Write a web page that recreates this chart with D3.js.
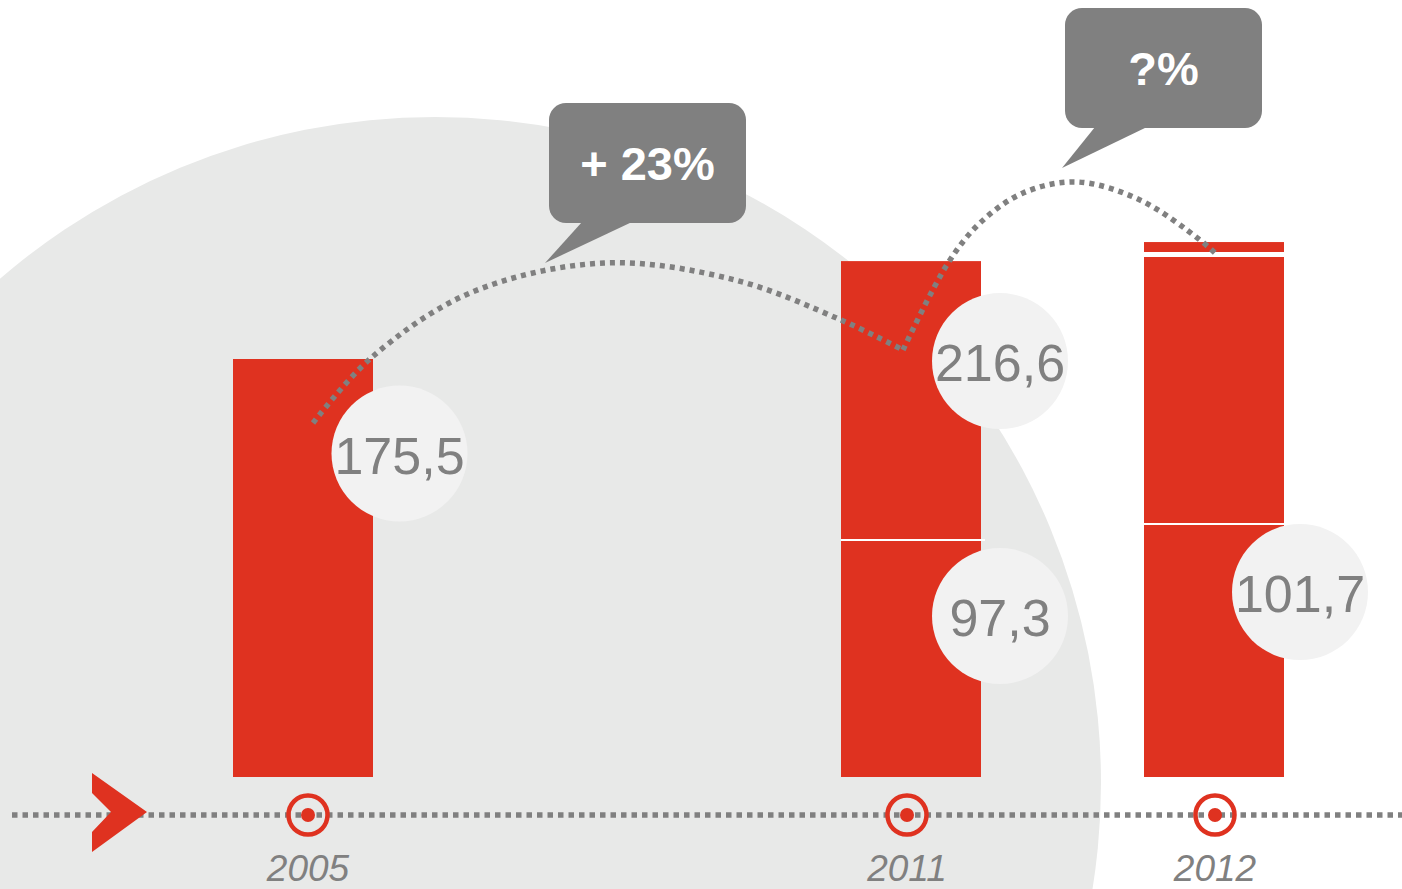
<!DOCTYPE html>
<html>
<head>
<meta charset="utf-8">
<script src="https://cdn.jsdelivr.net/npm/d3@7"></script>
<style>
  body { margin: 0; background: #fff; }
  svg { display: block; font-family: "Liberation Sans", Arial, sans-serif; }
</style>
</head>
<body>
<div id="chart"></div>
<script>
// Data
const years = ["2005", "2011", "2012"];
const baseSeg = [175.5, 99.5, 106.2];   // lower block of each bar
const midSeg = [0, 117.1, 113.2];       // upper block
const topSeg = [0, 0, 5.2];             // small forecast cap (2012)
const totalLabels = ["175,5", "216,6", null];
const lowerLabels = [null, "97,3", "101,7"];
const growthLabels = ["+ 23%", "?%"];

// Set dimensions
const width = 1402,
    height = 889;

const red = "#df3220",
    grey = "#808080";

const svg = d3.select("#chart")
  .append("svg")
  .attr("width", width)
  .attr("height", height);

// Scales
const x = d3.scaleOrdinal()
  .domain(years)
  .range([303, 911, 1214]);
const barW = 140;

const y = d3.scaleLinear()
  .domain([0, 175.5])
  .range([777, 359]);

const axisY = 815;

// Big grey disc behind everything
svg.append("circle")
  .attr("cx", 435)
  .attr("cy", 783)
  .attr("r", 666)
  .attr("fill", "#e8e9e8");

// Time axis (dotted)
svg.append("line")
  .attr("x1", 12)
  .attr("x2", width)
  .attr("y1", axisY)
  .attr("y2", axisY)
  .attr("stroke", grey)
  .attr("stroke-width", 5.5)
  .attr("stroke-dasharray", "5.5,5");

// Red chevron at the start of the axis
svg.append("path")
  .attr("d", "M92,773 L147,812 L92,852 L92,832 L111,812 L92,793 Z")
  .attr("fill", red);

// Bars
const rows = years.map((yr, i) => ({
  year: yr,
  base: baseSeg[i],
  mid: midSeg[i],
  top: topSeg[i]
}));

const bars = svg.selectAll(".bar")
  .data(rows)
  .enter()
  .append("g")
  .attr("class", "bar");

bars.append("rect")
  .attr("x", d => x(d.year) - barW / 2)
  .attr("y", d => y(d.base + d.mid + d.top))
  .attr("width", barW)
  .attr("height", d => y(0) - y(d.base + d.mid + d.top))
  .attr("fill", red);

// white separators between blocks
bars.filter(d => d.mid > 0)
  .append("line")
  .attr("x1", d => x(d.year) - barW / 2)
  .attr("x2", d => x(d.year) + barW / 2 + (d.top > 0 ? 0 : 4))
  .attr("y1", d => y(d.base))
  .attr("y2", d => y(d.base))
  .attr("stroke", "#fff")
  .attr("stroke-width", 2);

bars.filter(d => d.top > 0)
  .append("line")
  .attr("x1", d => x(d.year) - barW / 2)
  .attr("x2", d => x(d.year) + barW / 2)
  .attr("y1", d => y(d.base + d.mid))
  .attr("y2", d => y(d.base + d.mid))
  .attr("stroke", "#fff")
  .attr("stroke-width", 5);

// Year markers on the axis
const markShift = [5, -4, 1];
const marks = svg.selectAll(".mark")
  .data(years)
  .enter()
  .append("g")
  .attr("class", "mark")
  .attr("transform", (d, i) => `translate(${x(d) + markShift[i]},${axisY})`);

marks.append("circle")
  .attr("r", 19.5)
  .attr("fill", "none")
  .attr("stroke", red)
  .attr("stroke-width", 4.5);

marks.append("circle")
  .attr("r", 7)
  .attr("fill", red);

marks.append("text")
  .attr("y", 66)
  .attr("text-anchor", "middle")
  .attr("fill", grey)
  .style("font-size", "37px")
  .style("font-style", "italic")
  .text(d => d);

// Value bubbles
function bubble(cx, cy, label) {
  const g = svg.append("g").attr("transform", `translate(${cx},${cy})`);
  g.append("circle")
    .attr("r", 68)
    .attr("fill", "#f2f2f2");
  g.append("text")
    .attr("y", 20)
    .attr("text-anchor", "middle")
    .attr("fill", grey)
    .style("font-size", "52px")
    .text(label);
}

// bubble offsets from bar's right edge / block top
const totalOff = [[26.5, 94.5], [19, 100], [0, 0]];
const lowerOff = [[0, 0], [19, 76], [16, 68]];

rows.forEach((d, i) => {
  const right = x(d.year) + barW / 2;
  if (totalLabels[i]) {
    bubble(right + totalOff[i][0], y(d.base + d.mid + d.top) + totalOff[i][1], totalLabels[i]);
  }
  if (lowerLabels[i]) {
    bubble(right + lowerOff[i][0], y(d.base) + lowerOff[i][1], lowerLabels[i]);
  }
});

// Dotted growth arcs
const arc = d3.line().curve(d3.curveCatmullRom.alpha(0.5));

const arcs = [
  [[313, 423], [371, 358], [470, 293], [604, 263], [735, 280], [841, 320], [903, 350]],
  [[903, 350], [948, 263], [980, 223], [1023, 193], [1077, 182], [1140, 200], [1200, 240], [1217, 255]]
];

svg.selectAll(".arc")
  .data(arcs)
  .enter()
  .append("path")
  .attr("class", "arc")
  .attr("d", arc)
  .attr("fill", "none")
  .attr("stroke", grey)
  .attr("stroke-width", 5.5)
  .attr("stroke-dasharray", "5,5");

// Callouts
const callouts = [
  {box: [549, 103, 197, 120], tail: [[582, 222], [632, 222], [545, 263]], text: growthLabels[0]},
  {box: [1065, 8, 197, 120], tail: [[1095, 127], [1147, 127], [1062, 168]], text: growthLabels[1]}
];

callouts.forEach(c => {
  const [bx, by, bw, bh] = c.box;
  svg.append("rect")
    .attr("x", bx)
    .attr("y", by)
    .attr("width", bw)
    .attr("height", bh)
    .attr("rx", 17)
    .attr("fill", grey);
  svg.append("path")
    .attr("d", "M" + c.tail.join("L") + "Z")
    .attr("fill", grey);
  svg.append("text")
    .attr("x", bx + bw / 2)
    .attr("y", by + bh / 2 + 17)
    .attr("text-anchor", "middle")
    .attr("fill", "#fff")
    .style("font-size", "47px")
    .style("font-weight", "bold")
    .text(c.text);
});
</script>
</body>
</html>
